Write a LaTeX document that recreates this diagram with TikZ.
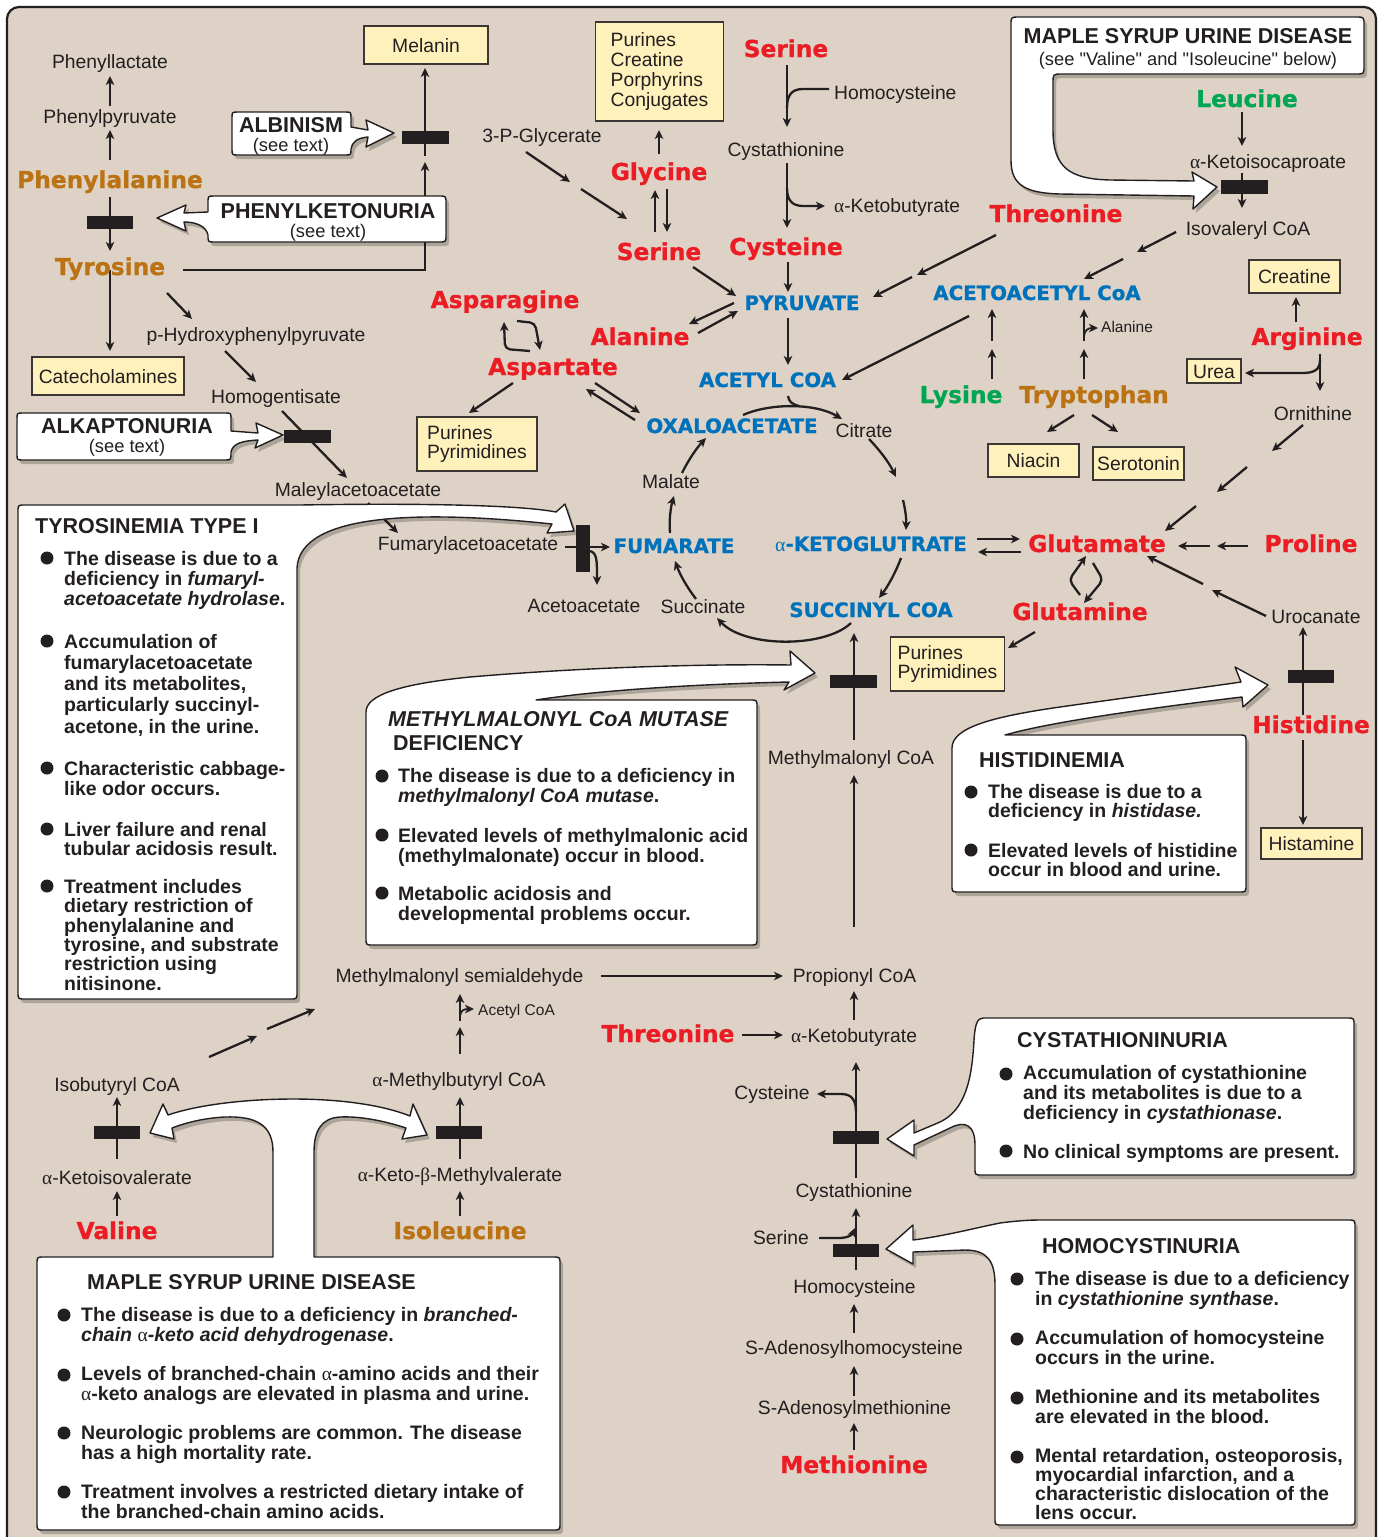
\documentclass[tikz,border=0pt]{standalone}
\usepackage{fontspec}
\setmainfont{Liberation Sans}
\newfontfamily\qf{Liberation Sans}
\newfontfamily\aafont{DejaVu Sans Bold}[FakeBold=0.9]
\newfontfamily\serfont{Liberation Serif}
\newcommand\alp{{\serfont\mdseries\upshape α}}
\newcommand\bet{{\serfont\mdseries\upshape β}}
\usetikzlibrary{arrows.meta,shadows}
\definecolor{bgtan}{RGB}{221,210,197}
\definecolor{txt}{RGB}{35,31,32}
\definecolor{aared}{RGB}{235,28,36}
\definecolor{aaorange}{RGB}{186,114,18}
\definecolor{aagreen}{RGB}{0,166,81}
\definecolor{aablue}{RGB}{0,114,188}
\definecolor{yfill}{RGB}{255,241,188}
\definecolor{yline}{RGB}{60,55,52}
\tikzset{
  lab/.style={anchor=base,inner sep=0pt,text=txt,font=\fontsize{19.3}{21}\selectfont},
  labw/.style={lab,anchor=base west},
  sml/.style={anchor=base west,inner sep=0pt,text=txt,font=\fontsize{15.5}{17}\selectfont},
  aab/.style={anchor=base,inner sep=0pt,font=\aafont\fontsize{23.3}{25}\selectfont},
  aaR/.style={aab,text=aared},
  aaO/.style={aab,text=aaorange},
  aaG/.style={aab,text=aagreen},
  tca/.style={anchor=base,inner sep=0pt,text=aablue,font=\aafont\fontsize{19.8}{22}\selectfont},
  ybox/.style={draw=yline,fill=yfill,line width=1.3pt,inner sep=0pt,text=txt,
     font=\fontsize{19.3}{21}\selectfont,text height=14pt,text depth=0pt},
  yboxm/.style={draw=yline,fill=yfill,line width=1.3pt,inner ysep=0pt,text=txt,align=left},
  ar/.style={draw=txt,line width=2.3pt,-{Stealth[length=9pt,width=8.5pt,inset=2.5pt]}},
  ln/.style={draw=txt,line width=2.3pt},
  callout/.style={fill=white,draw=txt,line width=1.4pt,line join=round,
     drop shadow={shadow xshift=3pt,shadow yshift=-4pt,opacity=0.22,fill=black}},
  ttl/.style={anchor=base,inner sep=0pt,text=txt,font=\bfseries\fontsize{21.5}{23}\selectfont},
  ttlw/.style={ttl,anchor=base west},
  seet/.style={anchor=base,inner sep=0pt,text=txt,font=\qf\fontsize{18.3}{20}\selectfont},
  para/.style={anchor=north west,inner sep=0pt,align=left,text=txt,font=\bfseries\fontsize{19.5}{20.3}\selectfont},
  parw/.style={para,anchor=base west},
}
\begin{document}
\begin{tikzpicture}[x=1pt,y=-1pt]
\useasboundingbox (0,0) rectangle (1382,1537);
\fill[white] (0,0) rectangle (1382,1537);
\draw[draw=txt,line width=2.2pt,fill=bgtan,rounded corners=12pt] (7,7) rectangle (1376,1600);

% ---------------- connectors and blocks ----------------
% phenylalanine / tyrosine
\draw[ar] (110,106) -- (110,76);
\draw[ar] (110,160) -- (110,130);
\draw[ar] (110,197) -- (110,251);
\fill[txt] (87,216) rectangle (133,229);
\draw[ar] (183,270) -- (425,270) -- (425,162);
\draw[ar] (425,156) -- (425,68);
\fill[txt] (402,131) rectangle (449,144);
\draw[ar] (110,270) -- (110,351);
\draw[ar] (167,293) -- (192,319);
\draw[ar] (225,351) -- (256,382);
\draw[ar] (282,411) -- (347,478);
\fill[txt] (284,430) rectangle (331,443);
\draw[ar] (368,503) -- (398,533);
\draw[ar] (565,547) -- (610,547);
\draw[ar] (590,551) .. controls (597,553) and (597,560) .. (597,585);
\fill[txt] (576,525) rectangle (590,572);
% glycine / serine / cysteine
\draw[ar] (526,152) -- (570,182);
\draw[ar] (581,189) -- (627,219);
\draw[ar] (659,154) -- (659,130);
\draw[ar] (655,232) -- (655,190);
\draw[ar] (667,189) -- (667,232);
\draw[ar] (787,65) -- (787,127);
\draw[ln] (829,89) -- (803,89) .. controls (791,89) and (787,96) .. (787,108);
\draw[ar] (787,163) -- (787,228);
\draw[ar] (787,188) .. controls (787,200) and (792,206) .. (803,206) -- (825,206);
\draw[ar] (788,262) -- (788,292);
\draw[ar] (693,267) -- (736,296);
\draw[ar] (996,235) -- (917,275);
\draw[ar] (912,277) -- (873,297);
\draw[ar] (734,303) -- (689,324);
\draw[ar] (698,333) -- (738,311);
\draw[ar] (788,318) -- (788,365);
\draw[ar] (969,316) -- (842,380);
\draw[ar,rounded corners=5pt] (530,351) -- (505,349) -- (504,322);
\draw[ar,rounded corners=5pt] (517,321) -- (535,323) -- (540,350);
\draw[ar] (513,383) -- (469,413);
\draw[ar] (635,420) -- (586,389);
\draw[ar] (595,383) -- (640,413);
% TCA cycle
\draw[ar] (743,415) .. controls (770,403) and (815,403) .. (842,419);
\draw[ln] (788,396) .. controls (789,402) and (792,404) .. (799,406);
\draw[ar] (869,439) .. controls (880,450.5) and (889,462.5) .. (896,477);
\draw[ar] (903,500) .. controls (905.5,510) and (906.5,520) .. (906,530);
\draw[ar] (901,558) .. controls (895.7,572.3) and (888.3,585.7) .. (879,598);
\draw[ar] (851,623) .. controls (825,648) and (745,648) .. (717,618);
\draw[ar] (696,599) .. controls (687,587.3) and (680,574.7) .. (675,561);
\draw[ar] (670,533) .. controls (669,521) and (670.5,508) .. (674,496);
\draw[ar] (682,473) .. controls (688.5,459.8) and (696.5,448.2) .. (706,438);
% right side
\draw[ar] (1242,112) -- (1242,146);
\draw[ar] (1242,173) -- (1242,208);
\fill[txt] (1221,180) rectangle (1268,194);
\draw[ar] (1176,232) -- (1137,252);
\draw[ar] (1123,259) -- (1084,279);
\draw[ar] (992,379) -- (992,349);
\draw[ar] (992,341) -- (992,309);
\draw[ar] (1084,379) -- (1084,349);
\draw[ar] (1084,341) -- (1084,309);
\draw[ar,line width=1.8pt] (1084,338) .. controls (1084,330) and (1088,328) .. (1098,328);
\draw[ar] (1074,415) -- (1047,432);
\draw[ar] (1092,415) -- (1118,432);
\draw[ar] (1296,322) -- (1296,297);
\draw[ar] (1320,354) -- (1320,391);
\draw[ar] (1320,360) .. controls (1320,370) and (1314,373) .. (1302,373) -- (1245,373);
\draw[ar] (1303,425) -- (1272,451);
\draw[ar] (1247,467) -- (1217,492);
\draw[ar] (1196,506) -- (1165,531);
\draw[ar] (977,539) -- (1020,539);
\draw[ar] (1021,552) -- (978,552);
\draw[ar] (1248,546) -- (1217,546);
\draw[ar] (1210,546) -- (1178,546);
\draw[ar] (1266,616) -- (1212,590);
\draw[ar] (1203,584) -- (1147,556);
\draw[ar,rounded corners=5pt] (1080,595) -- (1069,580) -- (1086,556);
\draw[ar,rounded corners=5pt] (1093,563) -- (1103,580) -- (1084,603);
\draw[ar] (1035,632) -- (1008,648);
\draw[ar] (1303,715) -- (1303,627);
\fill[txt] (1288,670) rectangle (1334,683);
\draw[ar] (1303,740) -- (1303,825);
% methylmalonyl / methionine chain
\draw[ar] (854,740) -- (854,633);
\fill[txt] (830,675) rectangle (877,688);
\draw[ar] (854,927) -- (854,775);
\draw[ar] (601,976) -- (783,976);
\draw[ar] (854,1020) -- (854,991);
\draw[ar] (742,1035) -- (783,1035);
\draw[ar] (856,1178) -- (856,1062);
\fill[txt] (833,1131) rectangle (879,1144);
\draw[ar] (856,1112) .. controls (856,1099) and (851,1094) .. (841,1094) -- (817,1094);
\draw[ar] (856,1270) -- (856,1208);
\fill[txt] (833,1244) rectangle (879,1257);
\draw[ar] (819,1238) -- (838,1238) .. controls (848,1238) and (852,1235) .. (855,1228);
\draw[ar] (854,1333) -- (854,1304);
\draw[ar] (854,1396) -- (854,1366);
\draw[ar] (854,1450) -- (854,1423);
% branched chain
\draw[ar] (209,1057) -- (257,1036);
\draw[ar] (267,1029) -- (315,1009);
\draw[ar] (460,1054) -- (460,1027);
\draw[ar] (460,1021) -- (460,994);
\draw[ar,line width=1.8pt] (460,1018) .. controls (460,1011) and (463,1009) .. (474,1009);
\draw[ar] (117,1159) -- (117,1097);
\fill[txt] (94,1126) rectangle (140,1139);
\draw[ar] (117,1216) -- (117,1191);
\draw[ar] (460,1159) -- (460,1097);
\fill[txt] (436,1126) rectangle (482,1139);
\draw[ar] (460,1216) -- (460,1191);

% ---------------- callouts ----------------
% ALBINISM
\path[callout] (238,112) -- (345,112) .. controls (351,112) .. (351,118) -- (351,127) -- (368,130) -- (366,120) -- (394,133) -- (366,147) -- (368,137) .. controls (357,138) and (352,142) .. (351,149) .. controls (351,155) .. (345,155) -- (238,155) .. controls (232,155) .. (232,149) -- (232,118) .. controls (232,112) .. (238,112) -- cycle;
% PHENYLKETONURIA
\path[callout] (214,196) -- (439,196) .. controls (446,196) .. (446,203) -- (446,235) .. controls (446,242) .. (439,242) -- (214,242) .. controls (208,242) .. (208,235) .. controls (206,226) and (196,222) .. (184,222) -- (186,231) -- (157,218) -- (186,205) -- (184,213) -- (208,212) -- (208,203) .. controls (208,196) .. (214,196) -- cycle;
% ALKAPTONURIA
\path[callout] (23,413) -- (225,413) .. controls (231,413) .. (231,419) -- (231,431) -- (258,433) -- (256,423) -- (283,435) -- (255,448) -- (258,440) .. controls (240,441) and (233,444) .. (231,452) .. controls (231,460) .. (225,460) -- (23,460) .. controls (17,460) .. (17,454) -- (17,419) .. controls (17,413) .. (23,413) -- cycle;
% MAPLE SYRUP (top)
\path[callout] (1019,17) -- (1356,17) .. controls (1364,17) .. (1364,25) -- (1364,66) .. controls (1364,74) .. (1356,74) -- (1062,74) .. controls (1053,74) .. (1053,83) -- (1053,130) .. controls (1053,168) and (1070,179) .. (1110,180) -- (1194,181) -- (1192,172) -- (1217,187) -- (1193,209) -- (1194,196) -- (1060,194) .. controls (1025,193) and (1011,185) .. (1011,160) -- (1011,25) .. controls (1011,17) .. (1019,17) -- cycle;
% TYROSINEMIA
\path[callout] (25,505) -- (300,505) .. controls (420,503) and (520,505) .. (556,512) -- (565,504) -- (574,531) -- (547,533) -- (552,524) .. controls (420,510) and (300,513) .. (297,568) -- (297,992) .. controls (297,999) .. (290,999) -- (25,999) .. controls (18,999) .. (18,992) -- (18,512) .. controls (18,505) .. (25,505) -- cycle;
% METHYLMALONYL
\path[callout] (536,700) -- (750,700) .. controls (757,700) .. (757,707) -- (757,938) .. controls (757,945) .. (750,945) -- (373,945) .. controls (366,945) .. (366,938) -- (366,712) .. controls (366,695) and (400,684) .. (470,677) .. controls (600,666) and (720,664) .. (791,665) -- (790,651) -- (815,673) -- (784,690) -- (789,682) .. controls (700,684) and (600,690) .. (536,700) -- cycle;
% HISTIDINEMIA
\path[callout] (1005,735) -- (1239,735) .. controls (1246,735) .. (1246,742) -- (1246,885) .. controls (1246,892) .. (1239,892) -- (959,892) .. controls (952,892) .. (952,885) -- (952,748) .. controls (952,728) and (990,717) .. (1060,707) .. controls (1130,697) and (1200,688) .. (1241,682) -- (1235,667) -- (1268,685) -- (1243,707) -- (1242,697) .. controls (1150,708) and (1050,722) .. (1005,735) -- cycle;
% CYSTATHIONINURIA
\path[callout] (983,1018) -- (1347,1018) .. controls (1354,1018) .. (1354,1025) -- (1354,1168) .. controls (1354,1175) .. (1347,1175) -- (982,1175) .. controls (975,1175) .. (975,1168) -- (975,1145) .. controls (975,1125) and (965,1120) .. (950,1128) -- (914,1145) -- (914,1156) -- (887,1139) -- (914,1120) -- (914,1133) -- (940,1122) .. controls (965,1110) and (972,1080) .. (974,1040) .. controls (975,1025) and (977,1018) .. (983,1018) -- cycle;
% HOMOCYSTINURIA
\path[callout] (1040,1220) -- (1348,1220) .. controls (1355,1220) .. (1355,1227) -- (1355,1518) .. controls (1355,1525) .. (1348,1525) -- (1002,1525) .. controls (995,1525) .. (995,1518) -- (995,1285) .. controls (995,1262) and (988,1250) .. (965,1250) -- (913,1252) -- (913,1264) -- (886,1249) -- (913,1225) -- (913,1240) .. controls (945,1236) and (975,1228) .. (1000,1223) .. controls (1015,1221) and (1028,1220) .. (1040,1220) -- cycle;
% MAPLE SYRUP (bottom)
\path[callout] (44,1257) -- (273,1257) -- (273,1152) .. controls (273,1124) and (255,1116) .. (225,1117) .. controls (205,1118) and (188,1122) .. (172,1128) -- (174,1139) -- (150,1133) -- (163,1104) -- (168,1115) .. controls (200,1104) and (250,1099) .. (293,1099) .. controls (336,1099) and (380,1104) .. (410,1116) -- (413,1104) -- (427,1135) -- (402,1139) -- (406,1128) .. controls (385,1121) and (360,1116) .. (340,1117) .. controls (322,1118) and (314,1130) .. (314,1152) -- (314,1257) -- (553,1257) .. controls (560,1257) .. (560,1264) -- (560,1523) .. controls (560,1530) .. (553,1530) -- (44,1530) .. controls (37,1530) .. (37,1523) -- (37,1264) .. controls (37,1257) .. (44,1257) -- cycle;

% ---------------- callout texts ----------------
\node[ttl] (albt) at (291,132) {ALBINISM};
\node[seet] (albs) at (291,151) {(see text)};
\node[ttl] (pkut) at (328,218) {PHENYLKETONURIA};
\node[seet] (pkus) at (328,237) {(see text)};
\node[ttl] (alkt) at (127,433) {ALKAPTONURIA};
\node[seet] (alks) at (127,452) {(see text)};
\node[ttl] (msut) at (1188,43) {MAPLE SYRUP URINE DISEASE};
\node[seet] (msus) at (1188,65) {(see "Valine" and "Isoleucine" below)};

\node[ttlw] (tyt) at (35,533) {TYROSINEMIA TYPE I};
\foreach \y in {558,641,768,829,886} \fill[txt] (47,\y) circle[radius=6.5pt];
\node[para] (ty1) at (64,551) {The disease is due to a\\deficiency in \textit{fumaryl-}\\\textit{acetoacetate hydrolase}.};
\node[para,font=\bfseries\fontsize{19.5}{21.2}\selectfont] (ty2) at (64,634) {Accumulation of\\fumarylacetoacetate\\and its metabolites,\\particularly succinyl-\\acetone, in the urine.};
\node[para] (ty3) at (64,761) {Characteristic cabbage-\\like odor occurs.};
\node[para,font=\bfseries\fontsize{19.5}{19}\selectfont] (ty4) at (64,822) {Liver failure and renal\\tubular acidosis result.};
\node[para,font=\bfseries\fontsize{19.5}{19.4}\selectfont] (ty5) at (64,879) {Treatment includes\\dietary restriction of\\phenylalanine and\\tyrosine, and substrate\\restriction using\\nitisinone.};

\node[ttlw,font=\bfseries\itshape\fontsize{21.5}{23}\selectfont] (mmt1) at (388,726) {METHYLMALONYL CoA MUTASE};
\node[ttlw] (mmt2) at (393,750) {DEFICIENCY};
\foreach \y in {776,835,893} \fill[txt] (382,\y) circle[radius=6.5pt];
\node[para] (mm1) at (398,768) {The disease is due to a deficiency in\\\textit{methylmalonyl CoA mutase}.};
\node[para] (mm2) at (398,828) {Elevated levels of methylmalonic acid\\(methylmalonate) occur in blood.};
\node[para] (mm3) at (398,886) {Metabolic acidosis and\\developmental problems occur.};

\node[ttlw] (hit) at (979,767) {HISTIDINEMIA};
\foreach \y in {792,850} \fill[txt] (971,\y) circle[radius=6.5pt];
\node[para,font=\bfseries\fontsize{19.5}{19}\selectfont] (hi1) at (988,784) {The disease is due to a\\deficiency in \textit{histidase.}};
\node[para,font=\bfseries\fontsize{19.5}{19}\selectfont] (hi2) at (988,843) {Elevated levels of histidine\\occur in blood and urine.};

\node[ttlw] (cyt) at (1017,1047) {CYSTATHIONINURIA};
\foreach \y in {1074,1151} \fill[txt] (1006,\y) circle[radius=6.5pt];
\node[para] (cy1) at (1023,1065) {Accumulation of cystathionine\\and its metabolites is due to a\\deficiency in \textit{cystathionase}.};
\node[parw] (cy2) at (1023,1158) {No clinical symptoms are present.};

\node[ttlw] (hct) at (1042,1253) {HOMOCYSTINURIA};
\foreach \y in {1279,1339,1398,1457} \fill[txt] (1017,\y) circle[radius=6.5pt];
\node[para] (hc1) at (1035,1271) {The disease is due to a deficiency\\in \textit{cystathionine synthase}.};
\node[para] (hc2) at (1035,1330) {Accumulation of homocysteine\\occurs in the urine.};
\node[para] (hc3) at (1035,1389) {Methionine and its metabolites\\are elevated in the blood.};
\node[para,font=\bfseries\fontsize{19.5}{19.2}\selectfont] (hc4) at (1035,1448) {Mental retardation, osteoporosis,\\myocardial infarction, and a\\characteristic dislocation of the\\lens occur.};

\node[ttlw] (mst) at (87,1289) {MAPLE SYRUP URINE DISEASE};
\foreach \y in {1315,1375,1433,1492} \fill[txt] (64,\y) circle[radius=6.5pt];
\node[para,font=\bfseries\fontsize{19.5}{19.8}\selectfont] (ms1) at (81,1307) {The disease is due to a deficiency in \textit{branched-}\\\textit{chain \alp-keto acid dehydrogenase}.};
\node[para,font=\bfseries\fontsize{19.5}{19.8}\selectfont] (ms2) at (81,1366) {Levels of branched-chain \alp-amino acids and their\\\alp-keto analogs are elevated in plasma and urine.};
\node[para,font=\bfseries\fontsize{19.5}{19.8}\selectfont] (ms3) at (81,1425) {Neurologic problems are common. The disease\\has a high mortality rate.};
\node[para,font=\bfseries\fontsize{19.5}{19.8}\selectfont] (ms4) at (81,1484) {Treatment involves a restricted dietary intake of\\the branched-chain amino acids.};

% ---------------- metabolite labels ----------------
\node[lab] (pla) at (110,68) {Phenyllactate};
\node[lab] (ppy) at (110,123) {Phenylpyruvate};
\node[lab] (phpp) at (256,341) {p-Hydroxyphenylpyruvate};
\node[lab] (hga) at (276,403) {Homogentisate};
\node[lab] (maa) at (358,496) {Maleylacetoacetate};
\node[lab] (faa) at (468,550) {Fumarylacetoacetate};
\node[lab] (aca) at (584,612) {Acetoacetate};
\node[lab] (g3p) at (542,142) {3-P-Glycerate};
\node[labw] (hcy1) at (834,99) {Homocysteine};
\node[lab] (cth1) at (786,156) {Cystathionine};
\node[labw] (akb1) at (834,212) {\alp-Ketobutyrate};
\node[lab] (kic) at (1268,168) {\alp-Ketoisocaproate};
\node[lab] (ivc) at (1248,235) {Isovaleryl CoA};
\node[sml] (ala2) at (1101,332) {Alanine};
\node[lab] (orn) at (1313,420) {Ornithine};
\node[lab] (uro) at (1316,623) {Urocanate};
\node[lab] (malt) at (671,488) {Malate};
\node[lab] (cit) at (864,437) {Citrate};
\node[lab] (sucn) at (703,613) {Succinate};
\node[lab] (mmcoa) at (851,764) {Methylmalonyl CoA};
\node[lab] (mmsa) at (459.5,982) {Methylmalonyl semialdehyde};
\node[lab] (pcoa) at (854.5,982) {Propionyl CoA};
\node[lab] (akb2) at (854,1042) {\alp-Ketobutyrate};
\node[sml] (acoa) at (478,1015.5) {Acetyl CoA};
\node[lab] (mbcoa) at (459,1086.5) {\alp-Methylbutyryl CoA};
\node[lab] (ibcoa) at (117,1091.5) {Isobutyryl CoA};
\node[lab] (kiv) at (117,1184) {\alp-Ketoisovalerate};
\node[lab] (kmv) at (460,1181.5) {\alp-Keto-\bet-Methylvalerate};
\node[lab] (cys2) at (772,1099) {Cysteine};
\node[lab] (cth2) at (854,1197) {Cystathionine};
\node[lab] (ser3) at (781,1244) {Serine};
\node[lab] (hcy2) at (854.5,1293) {Homocysteine};
\node[lab] (sah) at (854,1354) {S-Adenosylhomocysteine};
\node[lab] (sam) at (854.5,1414) {S-Adenosylmethionine};

% amino acids
\node[aaO] (phe) at (110,188) {Phenylalanine};
\node[aaO] (tyr) at (110,275) {Tyrosine};
\node[aaR] (ser1) at (786,57) {Serine};
\node[aaR] (gly) at (659,180) {Glycine};
\node[aaR] (ser2) at (659,260) {Serine};
\node[aaR] (cys1) at (786,255) {Cysteine};
\node[aaR] (thr1) at (1056,222) {Threonine};
\node[aaG] (leu) at (1247,107) {Leucine};
\node[aaR] (asn) at (505,308) {Asparagine};
\node[aaR] (asp) at (553,375) {Aspartate};
\node[aaR] (ala) at (640,345) {Alanine};
\node[aaG] (lys) at (961,403) {Lysine};
\node[aaO] (trp) at (1094,403) {Tryptophan};
\node[aaR] (arg) at (1307,345) {Arginine};
\node[aaR] (glu) at (1097,552) {Glutamate};
\node[aaR] (gln) at (1080,620) {Glutamine};
\node[aaR] (pro) at (1311,552) {Proline};
\node[aaR] (his) at (1311,733) {Histidine};
\node[aaR] (thr2) at (668,1042) {Threonine};
\node[aaR] (val) at (117,1239) {Valine};
\node[aaO] (ile) at (460,1239) {Isoleucine};
\node[aaR] (met) at (854,1473) {Methionine};

% central metabolites
\node[tca] (pyr) at (802,310) {PYRUVATE};
\node[tca] (accoa) at (767.5,387) {ACETYL COA};
\node[tca] (aacoa) at (1037,300) {ACETOACETYL CoA};
\node[tca] (oaa) at (732,433) {OXALOACETATE};
\node[tca] (akg) at (871,551) {{\serfont\mdseries α}-KETOGLUTRATE};
\node[tca] (sucoa) at (871,617) {SUCCINYL COA};
\node[tca] (fumr) at (674,553) {FUMARATE};

% yellow product boxes
\node[ybox,minimum width=124pt,minimum height=38pt] (melanin) at (426,45) {Melanin};
\node[ybox,minimum width=152pt,minimum height=38pt] (catechol) at (108,376) {Catecholamines};
\node[ybox,minimum width=91pt,minimum height=33pt] (niacin) at (1033.5,460.5) {Niacin};
\node[ybox,minimum width=91pt,minimum height=33pt] (sero) at (1138.5,463.5) {Serotonin};
\node[ybox,minimum width=91pt,minimum height=33pt] (creat) at (1294.5,276.5) {Creatine};
\node[ybox,minimum width=54pt,minimum height=24pt] (urea) at (1214,371) {Urea};
\node[ybox,minimum width=101pt,minimum height=31pt] (histam) at (1311.5,843.5) {Histamine};
\node[yboxm,font=\fontsize{19.3}{20}\selectfont,inner xsep=15pt,minimum width=125pt,minimum height=99pt] (pcpc) at (659.5,71.5) {Purines\\Creatine\\Porphyrins\\Conjugates};
\node[yboxm,font=\fontsize{19.3}{19}\selectfont,inner xsep=10pt,minimum width=120pt,minimum height=54pt] (pp1) at (477,444) {Purines\\Pyrimidines};
\node[yboxm,font=\fontsize{19.3}{19}\selectfont,inner xsep=7pt,minimum width=113pt,minimum height=54pt] (pp2) at (947.5,664) {Purines\\Pyrimidines};
\end{tikzpicture}
\end{document}
